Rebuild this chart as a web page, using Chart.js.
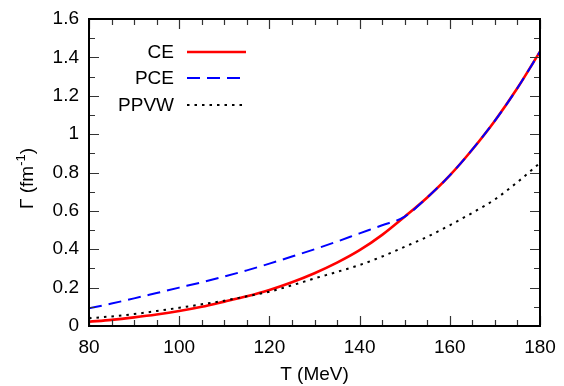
<!DOCTYPE html>
<html>
<head>
<meta charset="utf-8">
<script src="https://cdn.jsdelivr.net/npm/chart.js@4"></script>
<style>
	html, body { margin: 0; padding: 0; background: #fff; }
	#wrap { width: 564px; height: 386px; }
</style>
</head>
<body>
<div id="wrap"><canvas id="gammaChart" width="564" height="386"></canvas></div>
<script>
// --- data (T in MeV, Gamma in fm^-1) ---
const temps = [80, 85, 90, 95, 100, 105, 110, 115, 120, 125, 130, 135, 140, 145, 150, 155, 160, 165, 170, 175, 180];
const ceValues = [0.022, 0.032, 0.045, 0.06, 0.078, 0.10, 0.127, 0.155, 0.188, 0.228, 0.275, 0.33, 0.395, 0.475, 0.57, 0.67, 0.785, 0.92, 1.07, 1.24, 1.43];
const pceValues = [0.092, 0.117, 0.144, 0.172, 0.20, 0.228, 0.258, 0.29, 0.325, 0.362, 0.40, 0.44, 0.483, 0.525, 0.57, 0.67, 0.785, 0.92, 1.07, 1.24, 1.43];
const ppvwValues = [0.040, 0.05, 0.062, 0.078, 0.095, 0.113, 0.132, 0.155, 0.179, 0.212, 0.248, 0.282, 0.318, 0.362, 0.413, 0.465, 0.525, 0.59, 0.66, 0.75, 0.85];
const seriesNames = ["CE", "PCE", "PPVW"];
const xTicks = [80, 100, 120, 140, 160, 180];
const yTicks = [0, 0.2, 0.4, 0.6, 0.8, 1, 1.2, 1.4, 1.6];
const xMinorStep = 5;
const yMinorStep = 0.1;

const FONT = "Liberation Sans, Arial, sans-serif";
const FONT_SIZE = 19;

function toPoints(vals) {
	return temps.map((t, i) => ({ x: t, y: vals[i] }));
}

// box and inward ticks on all four sides (gnuplot look)
const framePlugin = {
	id: "gpframe",
	afterDraw(chart) {
		const c = chart.ctx;
		const a = chart.chartArea;
		const xs = chart.scales.x, ys = chart.scales.y;
		c.save();
		c.setLineDash([]);
		c.lineWidth = 1.2;
		c.strokeStyle = "#333";
		c.beginPath();
		for (let t = xs.min; t <= xs.max + 0.001; t += xMinorStep) {
			const px = Math.round(xs.getPixelForValue(t)) + 0.5;
			const len = xTicks.includes(t) ? 9 : 5;
			c.moveTo(px, a.bottom - 1);
			c.lineTo(px, a.bottom - 1 - len);
			c.moveTo(px, a.top + 1);
			c.lineTo(px, a.top + 1 + len);
		}
		for (let k = 0; k <= 16; k++) {
			const py = Math.round(ys.getPixelForValue(k * yMinorStep)) + 0.5;
			const len = k % 2 === 0 ? 9 : 5;
			c.moveTo(a.left + 1, py);
			c.lineTo(a.left + 1 + len, py);
			c.moveTo(a.right - 1, py);
			c.lineTo(a.right - 1 - len, py);
		}
		c.stroke();
		c.strokeStyle = "#000";
		c.lineWidth = 2;
		c.strokeRect(a.left, a.top, a.right - a.left, a.bottom - a.top);
		c.restore();
	},
};

// axis titles and the key
const textPlugin = {
	id: "gptext",
	afterDraw(chart) {
		const c = chart.ctx;
		const a = chart.chartArea;
		c.save();
		c.fillStyle = "#000";
		c.font = FONT_SIZE + "px " + FONT;
		c.textAlign = "center";
		c.textBaseline = "alphabetic";
		c.fillText("T (MeV)", (a.left + a.right) / 2, 380);

		// key: text right-aligned, line sample to its right
		const rows = [52, 78, 105];
		c.textAlign = "right";
		c.textBaseline = "middle";
		chart.data.datasets.forEach((ds, i) => {
			const y = rows[i];
			c.fillStyle = "#000";
			c.fillText(ds.label, 174, y + 1);
			c.strokeStyle = ds.borderColor;
			c.lineWidth = ds.borderWidth;
			c.setLineDash(ds.borderDash || []);
			c.beginPath();
			c.moveTo(187, y);
			c.lineTo(246, y);
			c.stroke();
		});
		c.setLineDash([]);

		// y title with superscript
		c.textBaseline = "alphabetic";
		c.translate(33, (a.top + a.bottom) / 2 + 6);
		c.rotate(-Math.PI / 2);
		const main = "\u0393 (fm";
		const sup = "-1";
		const close = ")";
		c.font = FONT_SIZE + "px " + FONT;
		const w1 = c.measureText(main).width;
		const w3 = c.measureText(close).width;
		c.font = "13px " + FONT;
		const w2 = c.measureText(sup).width;
		const x0 = -(w1 + w2 + w3) / 2;
		c.textAlign = "left";
		c.font = FONT_SIZE + "px " + FONT;
		c.fillText(main, x0, 0);
		c.font = "13px " + FONT;
		c.fillText(sup, x0 + w1, -8);
		c.font = FONT_SIZE + "px " + FONT;
		c.fillText(close, x0 + w1 + w2, 0);
		c.restore();
	},
};

const ctx = document.getElementById("gammaChart").getContext("2d");
new Chart(ctx, {
	type: "line",
	data: {
		datasets: [
			{
				label: seriesNames[0],
				data: toPoints(ceValues),
				borderColor: "#ff0000",
				borderWidth: 2.6,
				pointRadius: 0,
				cubicInterpolationMode: "monotone",
				order: 2,
			},
			{
				label: seriesNames[1],
				data: toPoints(pceValues),
				borderColor: "#0000ff",
				borderWidth: 2,
				borderDash: [13, 7],
				pointRadius: 0,
				cubicInterpolationMode: "monotone",
				order: 1,
			},
			{
				label: seriesNames[2],
				data: toPoints(ppvwValues),
				borderColor: "#000000",
				borderWidth: 2,
				borderDash: [2.5, 5],
				pointRadius: 0,
				cubicInterpolationMode: "monotone",
				order: 0,
			},
		],
	},
	options: {
		responsive: false,
		animation: false,
		events: [],
		layout: { padding: { left: 0, top: 19, right: 24, bottom: 0 } },
		plugins: {
			legend: { display: false },
			tooltip: { enabled: false },
		},
		scales: {
			x: {
				type: "linear",
				min: 80,
				max: 180,
				afterBuildTicks(scale) {
					scale.ticks = xTicks.map((v) => ({ value: v }));
				},
				afterFit(scale) { scale.height = 60; },
				grid: { display: false },
				border: { display: false },
				ticks: {
					color: "#000",
					padding: 2,
					maxRotation: 0,
					font: { family: FONT, size: FONT_SIZE },
				},
			},
			y: {
				type: "linear",
				min: 0,
				max: 1.6,
				afterBuildTicks(scale) {
					scale.ticks = yTicks.map((v) => ({ value: v }));
				},
				afterFit(scale) { scale.width = 89; },
				grid: { display: false },
				border: { display: false },
				ticks: {
					color: "#000",
					padding: 2,
					font: { family: FONT, size: FONT_SIZE },
					callback: (v) => String(Math.round(v * 10) / 10),
				},
			},
		},
	},
	plugins: [framePlugin, textPlugin],
});
</script>
</body>
</html>
